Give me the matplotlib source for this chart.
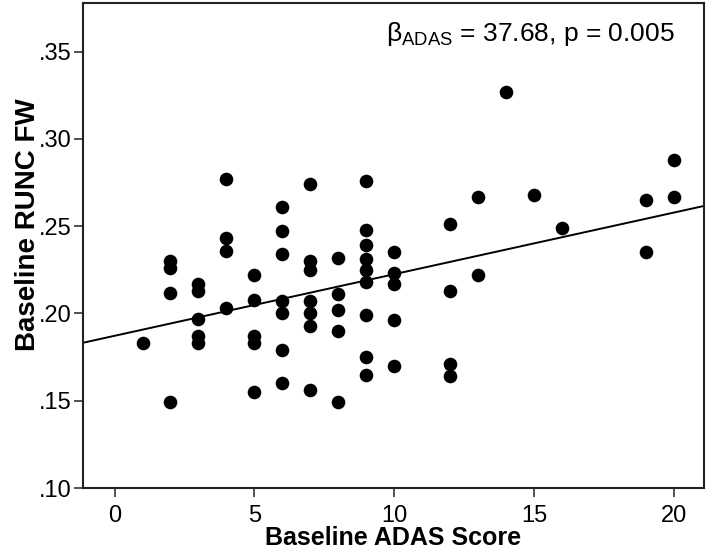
import matplotlib
matplotlib.use("Agg")
import matplotlib.pyplot as plt
import numpy as np
from matplotlib import rcParams

### setup ###
rcParams["font.family"] = "sans-serif"
rcParams["font.sans-serif"] = ["Liberation Sans", "DejaVu Sans"]
rcParams["mathtext.fontset"] = "custom"
rcParams["mathtext.rm"] = "Liberation Sans"
rcParams["mathtext.it"] = "Liberation Sans:italic"

# data: ADAS score -> RUNC FW values
adas_scores = [1, 2, 3, 4, 5, 6, 7, 8, 9, 10, 12, 13, 14, 15, 16, 19, 20]
runc_fw = [
    [0.183],
    [0.230, 0.226, 0.212, 0.149],
    [0.217, 0.213, 0.197, 0.187, 0.183],
    [0.277, 0.243, 0.236, 0.203],
    [0.222, 0.208, 0.187, 0.183, 0.155],
    [0.261, 0.247, 0.234, 0.207, 0.200, 0.179, 0.160],
    [0.274, 0.230, 0.225, 0.207, 0.200, 0.193, 0.156],
    [0.232, 0.211, 0.202, 0.190, 0.149],
    [0.276, 0.248, 0.239, 0.231, 0.225, 0.218, 0.199, 0.175, 0.165],
    [0.235, 0.223, 0.217, 0.196, 0.170],
    [0.251, 0.213, 0.171, 0.164],
    [0.267, 0.222],
    [0.327],
    [0.268],
    [0.249],
    [0.265, 0.235],
    [0.288, 0.267],
]

# fitted line as drawn
fit_intercept = 0.1872
fit_slope = 0.00353

xticks = [0, 5, 10, 15, 20]
yticks = [0.10, 0.15, 0.20, 0.25, 0.30, 0.35]
ytick_labels = [".10", ".15", ".20", ".25", ".30", ".35"]

x = []
y = []
for s, vals in zip(adas_scores, runc_fw):
    for v in vals:
        x.append(s)
        y.append(v)

fig = plt.figure(figsize=(7.09, 5.59), dpi=100)
ax = fig.add_axes([0.117, 0.127, 0.876, 0.868])

xlim = (-1.13, 21.08)
ax.set_xlim(xlim)
ax.set_ylim(0.10, 0.378)

xl = np.array(xlim)
ax.plot(xl, fit_intercept + fit_slope * xl, color="black", lw=1.4, zorder=2)
ax.plot(x, y, "o", color="black", markersize=9.8, markeredgewidth=0, zorder=3)

ax.set_xticks(xticks)
ax.set_yticks(yticks)
ax.set_yticklabels(ytick_labels)
ax.tick_params(direction="out", length=6.5, width=1.1, labelsize=17, color="#222222")
ax.tick_params(axis="y", pad=2)
ax.tick_params(axis="x", pad=6)

for sp in ax.spines.values():
    sp.set_linewidth(1.5)
    sp.set_color("#222222")

ax.set_xlabel("Baseline ADAS Score", fontsize=18, fontweight="bold", labelpad=-1)
ax.set_ylabel("Baseline RUNC FW", fontsize=20, fontweight="bold")
ax.yaxis.set_label_coords(-0.068, 0.542)

ax.text(0.953, 0.935, r"$\mathregular{\beta_{ADAS}}$ = 37.68, p = 0.005",
        transform=ax.transAxes, ha="right", va="center", fontsize=19)

fig.savefig("out.png", dpi=100)
